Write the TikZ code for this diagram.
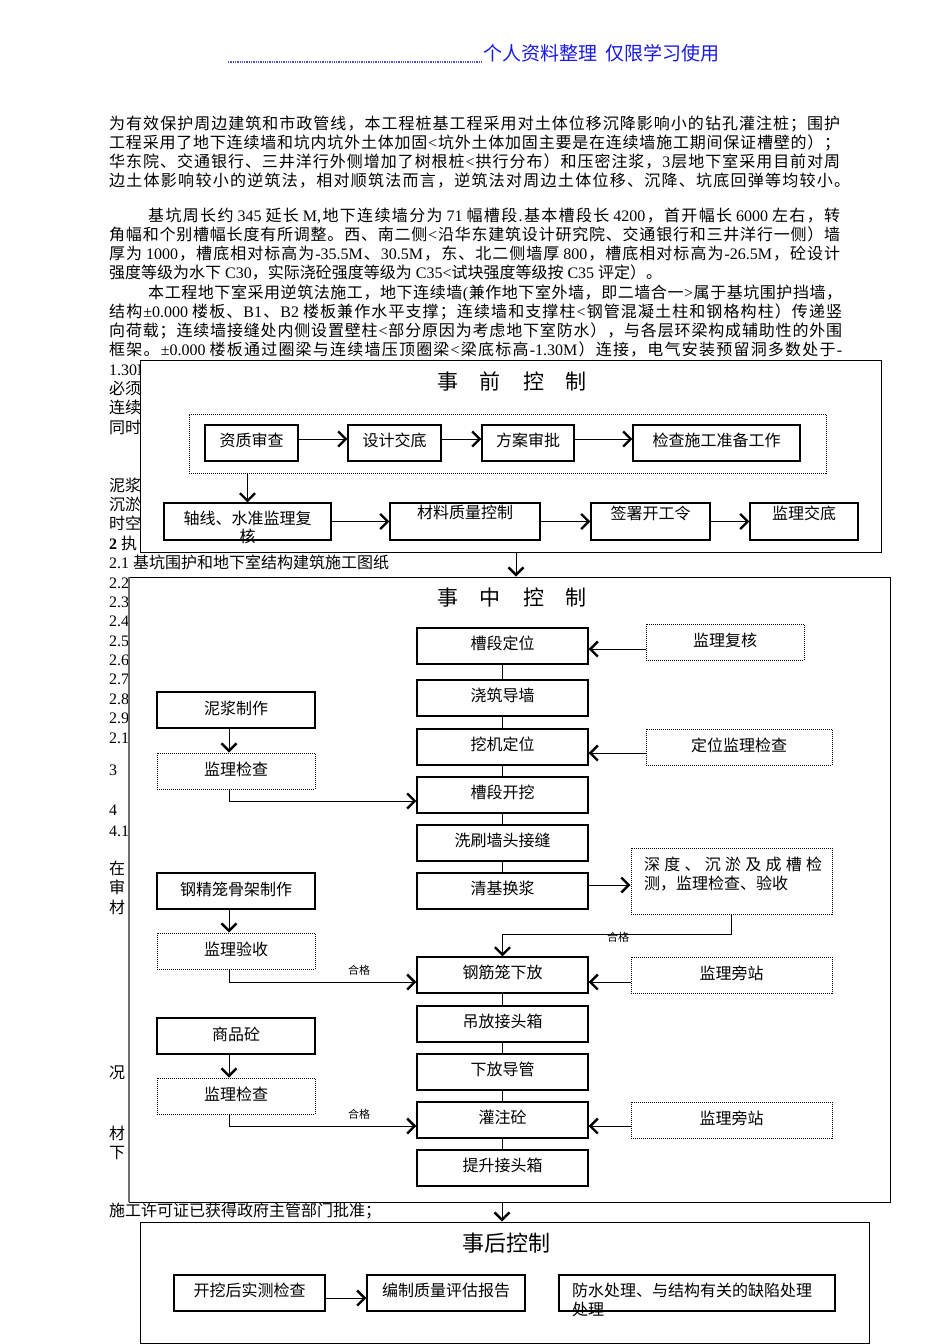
\documentclass[tikz,border=0pt]{standalone}
\usepackage{fontspec}
\setmainfont{Liberation Serif}
\newfontfamily\cjkfont{Noto Sans CJK SC}
\usetikzlibrary{arrows.meta}
\XeTeXinterchartokenstate=1
\newXeTeXintercharclass\CJKcls
\newcount\cc
\def\setcls#1#2{\cc=#1\relax\loop\XeTeXcharclass\cc=\CJKcls\relax\ifnum\cc<#2\relax\advance\cc by 1\relax\repeat}
\setcls{"3000}{"303F}
\setcls{"4E00}{"9FFF}
\setcls{"FF00}{"FFEF}
\newcommand\cjkglue{\hskip 0pt plus 1fil\relax}
\XeTeXinterchartoks 0 \CJKcls = {\cjkfont\cjkglue}
\XeTeXinterchartoks 4095 \CJKcls = {\cjkfont}
\XeTeXinterchartoks \CJKcls 0 = {\cjkglue\rmfamily}
\XeTeXinterchartoks \CJKcls 4095 = {\rmfamily}
\XeTeXinterchartoks \CJKcls \CJKcls = {\cjkglue}
\definecolor{hdrblue}{RGB}{25,25,225}
\definecolor{hdrdot}{RGB}{80,80,200}
\definecolor{edgegray}{RGB}{110,110,110}
\begin{document}
\begin{tikzpicture}[x=1pt,y=-1pt,
  font=\fontsize{16}{19}\selectfont,
  txt/.style={anchor=base west, inner sep=0pt},
  outer/.style={draw, line width=0.9pt, fill=white, inner sep=0pt},
  sbox/.style={draw, line width=1.2pt, fill=white, inner sep=0pt},
  dbox/.style={draw, densely dotted, line width=1pt, fill=white, inner sep=0pt},
  ttl/.style={inner sep=0pt, font=\fontsize{21}{25}\selectfont},
  small/.style={inner sep=0pt, font=\fontsize{11}{13}\selectfont},
  arr/.style={line width=1pt, -{Straight Barb[length=7.5pt,width=15pt,line width'=2.4pt]}},
  ln/.style={line width=1pt}]
\useasboundingbox (0,0) rectangle (950,1344);
\fill[white] (0,0) rectangle (950,1344);
% header
\draw[hdrdot, densely dotted, line width=1.3pt] (228,62) -- (483,62);
\node[txt, text=hdrblue, font=\fontsize{19}{22}\selectfont] (hdr) at (483,60) {个人资料整理\hspace{8pt}仅限学习使用};
% body text
\node[txt] (l1) at (109,129) {\hbox to 731pt{为有效保护周边建筑和市政管线，本工程桩基工程采用对土体位移沉降影响小的钻孔灌注桩；围护}};
\node[txt] (l2) at (109,148) {\hbox to 731pt{工程采用了地下连续墙和坑内坑外土体加固<坑外土体加固主要是在连续墙施工期间保证槽壁的）；}};
\node[txt] (l3) at (109,167) {\hbox to 731pt{华东院、交通银行、三井洋行外侧增加了树根桩<拱行分布）和压密注浆，3层地下室采用目前对周}};
\node[txt] (l4) at (109,186) {\hbox to 741pt{边土体影响较小的逆筑法，相对顺筑法而言，逆筑法对周边土体位移、沉降、坑底回弹等均较小。}};
\node[txt] (m1) at (148,221) {\hbox to 692pt{基坑周长约 345 延长 M,地下连续墙分为 71 幅槽段.基本槽段长 4200，首开幅长 6000 左右，转}};
\node[txt] (m2) at (109,240) {\hbox to 731pt{角幅和个别槽幅长度有所调整。西、南二侧<沿华东建筑设计研究院、交通银行和三井洋行一侧）墙}};
\node[txt] (m3) at (109,259) {\hbox to 731pt{厚为 1000，槽底相对标高为-35.5M、30.5M，东、北二侧墙厚 800，槽底相对标高为-26.5M，砼设计}};
\node[txt] (m4) at (109,278) {强度等级为水下 C30，实际浇砼强度等级为 C35<试块强度等级按 C35 评定）。};
\node[txt] (n1) at (148,298) {\hbox to 694pt{本工程地下室采用逆筑法施工，地下连续墙(兼作地下室外墙，即二墙合一>属于基坑围护挡墙，}};
\node[txt] (n2) at (109,317) {\hbox to 733pt{结构±0.000 楼板、B1、B2 楼板兼作水平支撑；连续墙和支撑柱<钢管混凝土柱和钢格构柱）传递竖}};
\node[txt] (n3) at (109,336) {\hbox to 733pt{向荷载；连续墙接缝处内侧设置壁柱<部分原因为考虑地下室防水），与各层环梁构成辅助性的外围}};
\node[txt] (n4) at (109,355) {\hbox to 733pt{框架。±0.000 楼板通过圈梁与连续墙压顶圈梁<梁底标高-1.30M）连接，电气安装预留洞多数处于-}};
\node[txt] (f1) at (109,375) {1.30M};
\node[txt] (f2) at (109,394) {必须};
\node[txt] (f3) at (109,413) {连续};
\node[txt] (f4) at (109,433) {同时};
\node[txt] (f5) at (109,491) {泥浆};
\node[txt] (f6) at (109,510) {沉淤};
\node[txt] (f7) at (109,529) {时空};
\node[txt] (f8) at (109,549) {\textbf{2} 执};
\node[txt] (f9) at (109,568) {2.1 基坑围护和地下室结构建筑施工图纸};
\node[txt] (g2) at (109,588) {2.2};
\node[txt] (g3) at (109,607) {2.3};
\node[txt] (g4) at (109,626) {2.4};
\node[txt] (g5) at (109,646) {2.5};
\node[txt] (g6) at (109,665) {2.6};
\node[txt] (g7) at (109,684) {2.7};
\node[txt] (g8) at (109,704) {2.8};
\node[txt] (g9) at (109,723) {2.9};
\node[txt] (g10) at (109,743) {2.1};
\node[txt] (h3) at (109,775) {3};
\node[txt] (h4) at (109,815) {4};
\node[txt] (h41) at (109,836) {4.1};
\node[txt] (k1) at (109,874) {在};
\node[txt] (k2) at (109,893) {审};
\node[txt] (k3) at (109,913) {材};
\node[txt] (k4) at (109,1078) {况};
\node[txt] (k5) at (109,1139) {材};
\node[txt] (k6) at (109,1158) {下};
\node[txt] (k7) at (109,1216) {施工许可证已获得政府主管部门批准；};
% ===== box 1
\node[outer, minimum width=741pt, minimum height=192pt] (b1) at (510.5,456) {};
\node[ttl] (t1) at (512,381) {事\hspace{22pt}前\hspace{22pt}控\hspace{22pt}制};
\node[dbox, minimum width=637pt, minimum height=59pt] (dots) at (507.5,443.5) {};
\node[sbox, minimum width=93pt, minimum height=36pt, text depth=7.5pt] (zz) at (251.5,443) {资质审查};
\node[sbox, minimum width=93pt, minimum height=36pt, text depth=7.5pt] (sj) at (394.5,443) {设计交底};
\node[sbox, minimum width=92pt, minimum height=36pt, text depth=7.5pt] (fa) at (528,443) {方案审批};
\node[sbox, minimum width=167pt, minimum height=36pt, text depth=7.5pt] (jc) at (716.5,443) {检查施工准备工作};
\node[sbox, minimum width=167pt, minimum height=37pt] (zx) at (247.5,521.5) {};
\node[inner sep=0pt, align=center, font=\fontsize{16}{18}\selectfont] (zxt) at (247.5,527) {\hbox{轴线、水准监理复}\\\hbox{核}};
\node[sbox, minimum width=150pt, minimum height=37pt, text depth=18.5pt] (cl) at (465,521.5) {材料质量控制};
\node[sbox, minimum width=119pt, minimum height=37pt, text depth=18.5pt] (qs) at (650.5,521.5) {签署开工令};
\node[sbox, minimum width=108pt, minimum height=37pt, text depth=18.5pt] (jd) at (804,521.5) {监理交底};
\draw[arr] ([yshift=4pt]zz.east) -- ([yshift=4pt]sj.west);
\draw[arr] ([yshift=4pt]sj.east) -- ([yshift=4pt]fa.west);
\draw[arr] ([yshift=4pt]fa.east) -- ([yshift=4pt]jc.west);
\draw[arr] (zx.north |- dots.south) -- (zx.north);
\draw[arr] (zx.east) -- (cl.west);
\draw[arr] (cl.east) -- (qs.west);
\draw[arr] (qs.east) -- (jd.west);
% ===== box 2
\node[outer, minimum width=761pt, minimum height=625pt] (b2) at (509.5,889.5) {};
\draw[edgegray, line width=2pt] (b2.north west) -- (b2.south west);
\draw[arr] ([xshift=5.5pt]b1.south) -- ([xshift=5.5pt]b1.south |- b2.north);
\node[ttl] (t2) at (512,598) {事\hspace{22pt}中\hspace{22pt}控\hspace{22pt}制};
\foreach \nm/\yy/\tx in {cdw/646/槽段定位, jzd/698/浇筑导墙, wjd/747/挖机定位, cdk/795/槽段开挖, xs/843/洗刷墙头接缝, qj/891/清基换浆, gjl/975/钢筋笼下放, df/1024/吊放接头箱, xf/1072/下放导管, gz/1120/灌注砼, ts/1168/提升接头箱}
  {\node[sbox, minimum width=171pt, minimum height=36pt, text depth=7.5pt] (\nm) at (502.5,\yy) {\tx};}
\foreach \a/\b in {cdw/jzd, jzd/wjd, wjd/cdk, cdk/xs, xs/qj, gjl/df, df/xf, xf/gz, gz/ts}
  {\draw[ln] (\a.south) -- (\b.north);}
\node[dbox, minimum width=158pt, minimum height=36pt, text depth=5.5pt] (fh) at (725,642) {监理复核};
\node[dbox, minimum width=186pt, minimum height=36pt, text depth=5.5pt] (dwjc) at (739,747) {定位监理检查};
\node[dbox, minimum width=201pt, minimum height=66pt] (sd) at (731.5,881) {};
\node[inner sep=0pt, align=left, anchor=west] (sdt) at (644,874.5) {\hbox to 178pt{深度、沉淤及成槽检}\\\hbox{测，监理检查、验收}};
\node[dbox, minimum width=201pt, minimum height=36pt, text depth=5.5pt] (pz1) at (731.5,975) {监理旁站};
\node[dbox, minimum width=201pt, minimum height=36pt, text depth=5.5pt] (pz2) at (731.5,1120) {监理旁站};
\draw[arr] ([yshift=-7pt]fh.west) -- ([yshift=-3pt]cdw.east);
\draw[arr] ([yshift=-6pt]dwjc.west) -- ([yshift=-6pt]wjd.east);
\draw[arr] ([yshift=6pt]qj.east) -- ([yshift=-4pt]sd.west);
\draw[arr] ([yshift=-7pt]pz1.west) -- ([yshift=-7pt]gjl.east);
\draw[arr] ([yshift=-6pt]pz2.west) -- ([yshift=-6pt]gz.east);
\draw[arr] (sd.south) -- ++(0,20) -| (gjl.north);
\node[small] (hg3) at (618,937) {合格};
\node[sbox, minimum width=158pt, minimum height=36pt, text depth=5.5pt] (nj) at (236,710) {泥浆制作};
\node[dbox, minimum width=158pt, minimum height=36pt, text depth=5.5pt] (jc1) at (236,771) {监理检查};
\node[sbox, minimum width=158pt, minimum height=36pt, text depth=5.5pt] (gjz) at (236,891) {钢精笼骨架制作};
\node[dbox, minimum width=158pt, minimum height=36pt, text depth=5.5pt] (ys) at (236,951) {监理验收};
\node[sbox, minimum width=158pt, minimum height=36pt, text depth=5.5pt] (sp) at (236,1036) {商品砼};
\node[dbox, minimum width=158pt, minimum height=36pt, text depth=5.5pt] (jc2) at (236,1096) {监理检查};
\draw[arr] ([xshift=-7pt]nj.south) -- ([xshift=-7pt]jc1.north);
\draw[arr] ([xshift=-7pt]jc1.south) |- ([yshift=-6pt]cdk.west);
\draw[arr] ([xshift=-7pt]gjz.south) -- ([xshift=-7pt]ys.north);
\draw[arr] ([xshift=-7pt]ys.south) |- ([yshift=-7pt]gjl.west);
\draw[arr] ([xshift=-7pt]sp.south) -- ([xshift=-7pt]jc2.north);
\draw[arr] ([xshift=-7pt]jc2.south) |- ([yshift=-6pt]gz.west);
\node[small] (hg1) at (359,970) {合格};
\node[small] (hg2) at (359,1114) {合格};
% ===== box 3
\node[outer, minimum width=729pt, minimum height=121pt] (b3) at (504.5,1282.5) {};
\draw[arr] ([xshift=-7.5pt]b2.south) -- ([xshift=-7.5pt]b2.south |- b3.north);
\node[inner sep=0pt, font=\fontsize{22}{26}\selectfont] (t3) at (506,1243) {事后控制};
\node[sbox, minimum width=151pt, minimum height=36pt, text depth=7.5pt] (kw) at (249.5,1293) {开挖后实测检查};
\node[sbox, minimum width=158pt, minimum height=36pt, text depth=7.5pt] (bz) at (446,1293) {编制质量评估报告};
\node[sbox, minimum width=276pt, minimum height=36pt] (fs) at (697,1293) {};
\node[inner sep=0pt, align=left, anchor=west] (fst) at (572,1299.5) {\hbox{防水处理、与结构有关的缺陷处理}\\\hbox{处理}};
\draw[arr] ([yshift=-5pt]kw.east) -- ([yshift=-5pt]bz.west);
\end{tikzpicture}
\end{document}
